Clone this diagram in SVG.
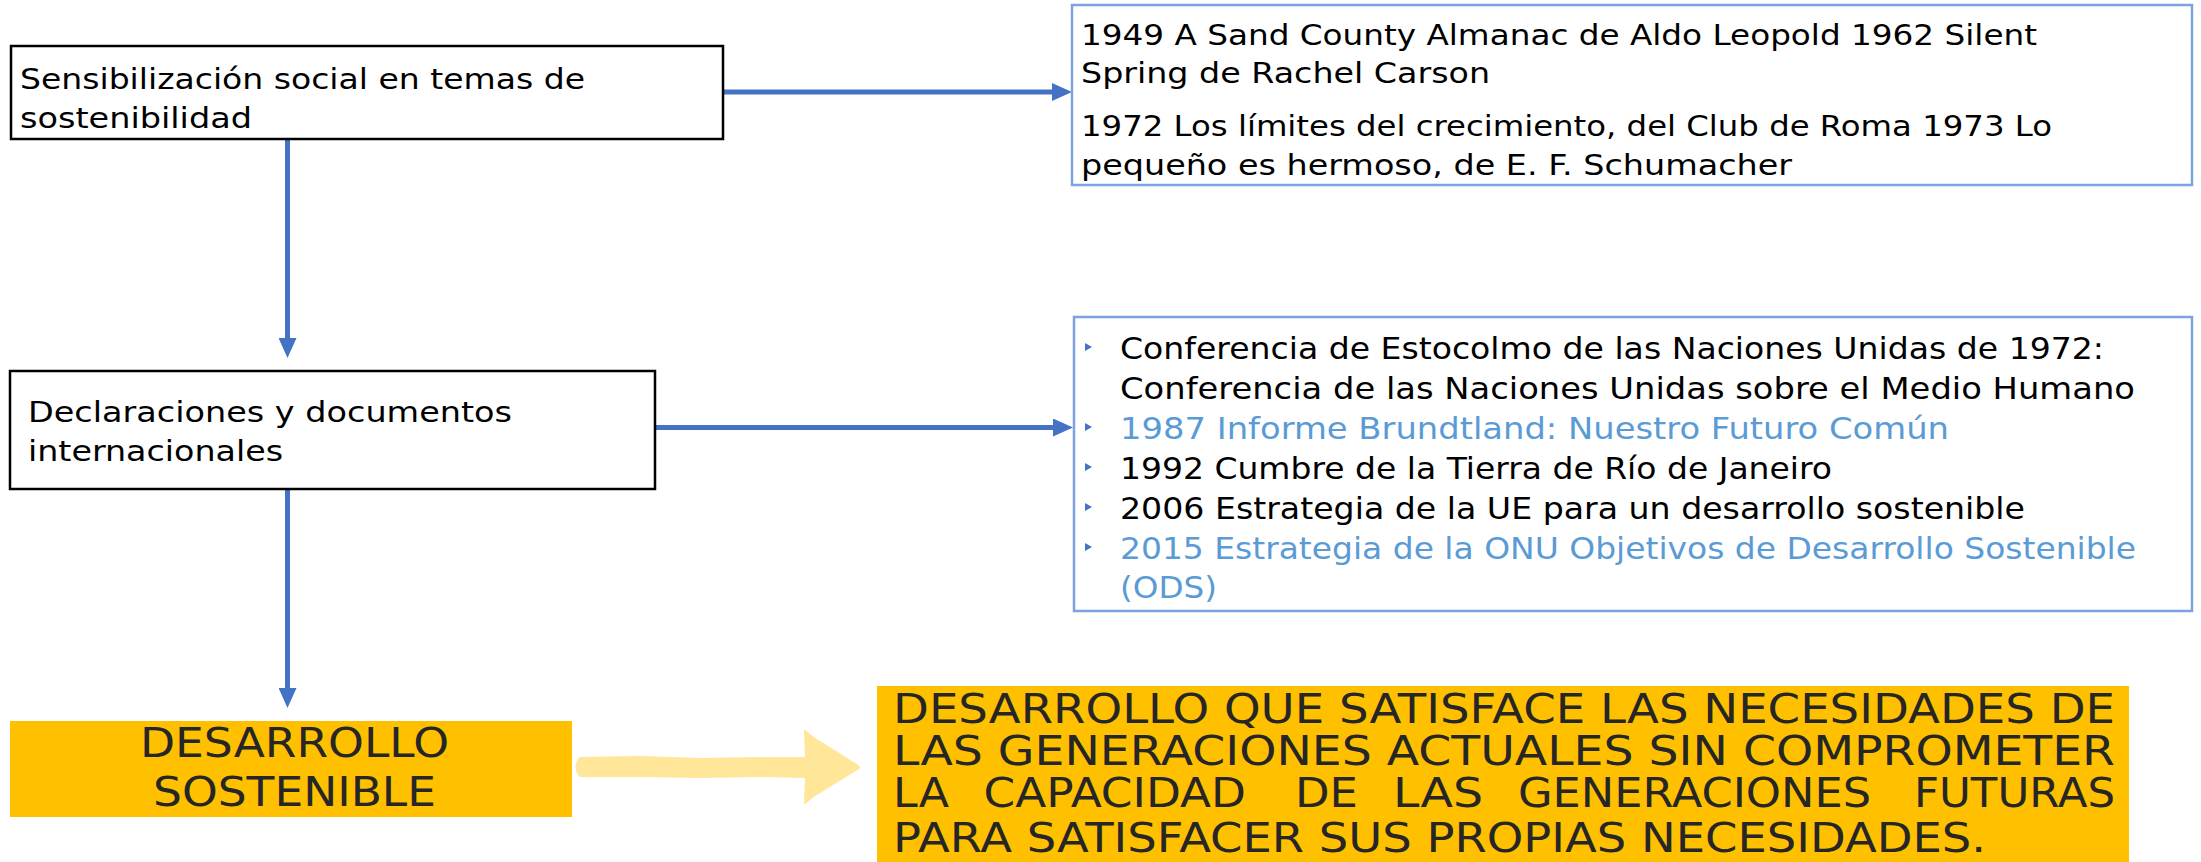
<svg xmlns="http://www.w3.org/2000/svg" width="2201" height="862" viewBox="0 0 2201 862">
<style>
.t{font-family:"DejaVu Sans","Open Sans",sans-serif;fill:#000;}
.s{font-size:29px;}
.m{font-size:31px;}
.big{font-size:41px;fill:#262626;}
.blue{fill:#5B9BD5;}
.box{fill:#fff;stroke:#000;stroke-width:2.5;}
.lbox{fill:#fff;stroke:#7BA3DD;stroke-width:2.5;}
.ybox{fill:#FFC000;stroke:none;}
.conn{stroke:#4472C4;stroke-width:5;fill:none;}
.bul{fill:#4472C4;}
</style>
<defs>
<marker id="ah" markerUnits="userSpaceOnUse" markerWidth="20" markerHeight="18" refX="10" refY="9" orient="auto">
<path d="M0,0 L20,9 L0,18 Z" fill="#4472C4"/>
</marker>
</defs>

<g id="connectors">
<line class="conn" x1="723" y1="92" x2="1062" y2="92" marker-end="url(#ah)"/>
<line class="conn" x1="287.5" y1="139" x2="287.5" y2="348" marker-end="url(#ah)"/>
<line class="conn" x1="655" y1="427.5" x2="1063" y2="427.5" marker-end="url(#ah)"/>
<line class="conn" x1="287.5" y1="489" x2="287.5" y2="698" marker-end="url(#ah)"/>
<path id="yellow-arrow" d="M580,758 L640,757 L700,759 L760,758 L806,758 L805,731 L812,737 L858,766 L859,768 L812,797 L805,803 L806,777 L760,776 L700,777 L640,776 L580,776 Q573,767 580,758 Z" fill="#FFE699" stroke="#FFE699" stroke-width="2" stroke-linejoin="round"/>
</g>

<g id="node-sensibilizacion">
<rect class="box" x="11" y="46" width="712" height="93"/>
<text class="t s" x="20" y="89" textLength="565" lengthAdjust="spacingAndGlyphs">Sensibilización social en temas de</text>
<text class="t s" x="20" y="127.5" textLength="232" lengthAdjust="spacingAndGlyphs">sostenibilidad</text>
</g>

<g id="node-libros">
<rect class="lbox" x="1072" y="5" width="1120" height="180"/>
<text class="t s" x="1081" y="45" textLength="956" lengthAdjust="spacingAndGlyphs">1949 A Sand County Almanac de Aldo Leopold 1962 Silent</text>
<text class="t s" x="1081" y="83" textLength="409" lengthAdjust="spacingAndGlyphs">Spring de Rachel Carson</text>
<text class="t s" x="1081" y="136" textLength="971" lengthAdjust="spacingAndGlyphs">1972 Los límites del crecimiento, del Club de Roma 1973 Lo</text>
<text class="t s" x="1081" y="175" textLength="711" lengthAdjust="spacingAndGlyphs">pequeño es hermoso, de E. F. Schumacher</text>
</g>

<g id="node-declaraciones">
<rect class="box" x="10" y="371" width="645" height="118"/>
<text class="t s" x="28" y="421.7" textLength="484" lengthAdjust="spacingAndGlyphs">Declaraciones y documentos</text>
<text class="t s" x="28" y="460.7" textLength="255" lengthAdjust="spacingAndGlyphs">internacionales</text>
</g>

<g id="node-documentos">
<rect class="lbox" x="1074" y="317" width="1118" height="294"/>
<path class="bul" d="M1085,343 L1092,347 L1085,351 Z"/>
<path class="bul" d="M1085,423 L1092,427 L1085,431 Z"/>
<path class="bul" d="M1085,463 L1092,467 L1085,471 Z"/>
<path class="bul" d="M1085,503 L1092,507 L1085,511 Z"/>
<path class="bul" d="M1085,543 L1092,547 L1085,551 Z"/>
<text class="t m" x="1120" y="359" textLength="984" lengthAdjust="spacingAndGlyphs">Conferencia de Estocolmo de las Naciones Unidas de 1972:</text>
<text class="t m" x="1120" y="399" textLength="1015" lengthAdjust="spacingAndGlyphs">Conferencia de las Naciones Unidas sobre el Medio Humano</text>
<text class="t m blue" x="1120" y="439" textLength="829" lengthAdjust="spacingAndGlyphs">1987 Informe Brundtland: Nuestro Futuro Común</text>
<text class="t m" x="1120" y="479" textLength="712" lengthAdjust="spacingAndGlyphs">1992 Cumbre de la Tierra de Río de Janeiro</text>
<text class="t m" x="1120" y="519" textLength="905" lengthAdjust="spacingAndGlyphs">2006 Estrategia de la UE para un desarrollo sostenible</text>
<text class="t m blue" x="1120" y="559" textLength="1016" lengthAdjust="spacingAndGlyphs">2015 Estrategia de la ONU Objetivos de Desarrollo Sostenible</text>
<text class="t m blue" x="1120" y="598" textLength="97" lengthAdjust="spacingAndGlyphs">(ODS)</text>
</g>

<g id="node-desarrollo-sostenible">
<rect class="ybox" x="10" y="721" width="562" height="96"/>
<text class="t big" x="294.5" y="757" text-anchor="middle" textLength="309" lengthAdjust="spacingAndGlyphs">DESARROLLO</text>
<text class="t big" x="294.5" y="806" text-anchor="middle" textLength="283" lengthAdjust="spacingAndGlyphs">SOSTENIBLE</text>
</g>

<g id="node-definicion">
<rect class="ybox" x="877" y="686" width="1252" height="176"/>
<text class="t big" x="893" y="723" textLength="1222" lengthAdjust="spacingAndGlyphs">DESARROLLO QUE SATISFACE LAS NECESIDADES DE</text>
<text class="t big" x="893" y="765" textLength="1222" lengthAdjust="spacingAndGlyphs">LAS GENERACIONES ACTUALES SIN COMPROMETER</text>
<text class="t big" y="807"><tspan x="893" textLength="56" lengthAdjust="spacingAndGlyphs">LA</tspan></text>
<text class="t big" x="983.5" y="807" textLength="262.5" lengthAdjust="spacingAndGlyphs">CAPACIDAD</text>
<text class="t big" x="1295" y="807" textLength="63" lengthAdjust="spacingAndGlyphs">DE</text>
<text class="t big" x="1393" y="807" textLength="90" lengthAdjust="spacingAndGlyphs">LAS</text>
<text class="t big" x="1518" y="807" textLength="353" lengthAdjust="spacingAndGlyphs">GENERACIONES</text>
<text class="t big" x="1914" y="807" textLength="201" lengthAdjust="spacingAndGlyphs">FUTURAS</text>
<text class="t big" x="893" y="852" textLength="1093" lengthAdjust="spacingAndGlyphs">PARA SATISFACER SUS PROPIAS NECESIDADES.</text>
</g>
</svg>
